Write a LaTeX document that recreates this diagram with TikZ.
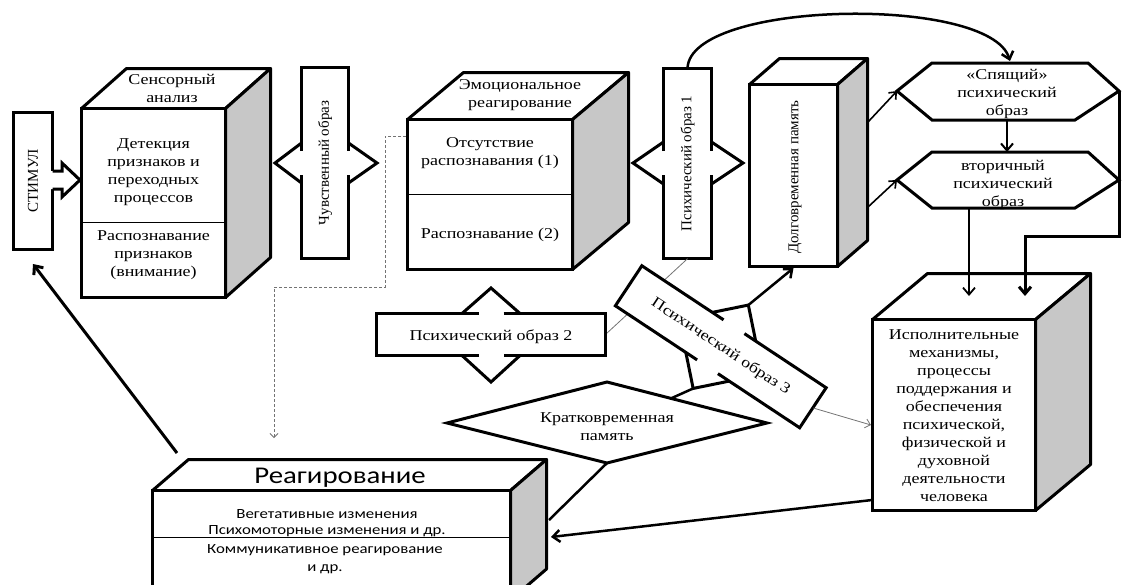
\documentclass[tikz,border=0pt]{standalone}
\usepackage{fontspec}
\setmainfont[FakeStretch=1.2]{Liberation Serif}
\newfontfamily\upfont{Liberation Serif}
\newfontfamily\reafont[FakeStretch=1.2]{Carlito}
\usetikzlibrary{arrows.meta,calc}

\tikzset{
 face/.style={draw,line width=3pt,fill=white,inner sep=0pt},
 sideface/.style={draw,line width=3pt,fill=black!22,line join=round},
 topface/.style={draw,line width=3pt,fill=white,line join=round},
 callout/.style={line width=3pt},
 lbl/.style={align=center,inner sep=0pt,font=\fontsize{15}{18}\selectfont},
 uplbl/.style={align=center,inner sep=0pt,rotate=90,font=\upfont\fontsize{15}{18}\selectfont},
 divide/.style={line width=0.8pt},
 link/.style={line width=2.5pt,-{Straight Barb[length=7pt,width=12pt]}},
 slink/.style={line width=1.6pt,-{Straight Barb[length=6pt,width=10pt]}},
 glink/.style={draw=black!55,line width=0.8pt},
}

\begin{document}
\begin{tikzpicture}[x=1pt,y=-1pt]
\useasboundingbox (0,0) rectangle (1129,584);
\clip (0,0) rectangle (1129,584);

\node[face,minimum width=39pt,minimum height=137pt] (stim) at (33,181) {};
\node[uplbl] at (stim) {СТИМУЛ};
\fill[white] (51,171) -- (62,171) -- (62,163) -- (80,180) -- (62,197) -- (62,189) -- (51,189) -- cycle;
\draw[callout] (52.5,171) -- (62,171) -- (62,163) -- (80,180) -- (62,197) -- (62,189) -- (52.5,189);

\draw[topface] (81.5,108.5) -- (126.5,68.5) -- (270.5,68.5) -- (225.5,108.5) -- cycle;
\draw[sideface] (225.5,108.5) -- (270.5,68.5) -- (270.5,257.5) -- (225.5,297.5) -- cycle;
\node[face,minimum width=144pt,minimum height=189pt] (sens) at (153.5,203) {};
\draw[divide] (81.5,222) -- (225.5,222);
\node[lbl] at (172,88) {Сенсорный\\анализ};
\node[lbl] at (153.5,172.5) {Детекция\\признаков и\\переходных\\процессов};
\node[lbl] at (153.5,255) {Распознавание\\признаков\\(внимание)};

\node[minimum width=47pt,minimum height=191pt,inner sep=0pt] (feel) at (325,163) {};
\fill[white] (275,163) -- (301.5,143) -- (301.5,67.5) -- (348.5,67.5) -- (348.5,143) -- (377,163) -- (348.5,183) -- (348.5,258.5) -- (301.5,258.5) -- (301.5,183) -- cycle;
\draw[callout] (301.5,151) -- (301.5,67.5) -- (348.5,67.5) -- (348.5,151);
\draw[callout] (301.5,175) -- (301.5,258.5) -- (348.5,258.5) -- (348.5,175);
\draw[callout] (301.5,143) -- (275,163) -- (301.5,183);
\draw[callout] (348.5,143) -- (377,163) -- (348.5,183);
\node[uplbl] at (feel) {Чувственный образ};

\draw[topface] (407.5,119.5) -- (463.5,72.5) -- (628.5,72.5) -- (572.5,119.5) -- cycle;
\draw[sideface] (572.5,119.5) -- (628.5,72.5) -- (628.5,222.5) -- (572.5,269.5) -- cycle;
\node[face,minimum width=165pt,minimum height=150pt] (emo) at (490,194.5) {};
\draw[divide] (407.5,194) -- (572.5,194);
\node[lbl] at (520,95) {Эмоциональное\\реагирование};
\node[lbl] at (490,153.5) {Отсутствие\\распознавания (1)};
\node[lbl] at (490,235) {Распознавание (2)};

\node[minimum width=48pt,minimum height=190pt,inner sep=0pt] (psy1) at (687.5,163.5) {};
\fill[white] (633,163) -- (663.5,142) -- (663.5,68.5) -- (711.5,68.5) -- (711.5,142) -- (743,163) -- (711.5,184) -- (711.5,258.5) -- (663.5,258.5) -- (663.5,184) -- cycle;
\draw[callout] (663.5,151) -- (663.5,68.5) -- (711.5,68.5) -- (711.5,151);
\draw[callout] (663.5,175) -- (663.5,258.5) -- (711.5,258.5) -- (711.5,175);
\draw[callout] (663.5,142) -- (633,163) -- (663.5,184);
\draw[callout] (711.5,142) -- (743,163) -- (711.5,184);
\node[uplbl] at (psy1) {Психический образ 1};

\draw[topface] (749.5,84.5) -- (779.5,58.5) -- (867.5,58.5) -- (837.5,84.5) -- cycle;
\draw[sideface] (837.5,84.5) -- (867.5,58.5) -- (867.5,240.5) -- (837.5,266.5) -- cycle;
\node[face,minimum width=88pt,minimum height=182pt] (dolg) at (793.5,175.5) {};
\node[uplbl] at (795,177) {Долговременная память};
\coordinate (dolgA) at (868,122);
\coordinate (dolgB) at (868,207);

\draw[line width=3pt,fill=white] (897,91) -- (932,63) -- (1088,63) -- (1119,91) -- (1075,120) -- (932,120) -- cycle;
\coordinate (sleepL) at (897,91);
\coordinate (sleepR) at (1119,91);
\coordinate (sleepT) at (1010,61);
\coordinate (sleepB) at (1007,120);
\node[lbl] (sleep) at (1007,94) {«Спящий»\\психический\\образ};

\draw[line width=3pt,fill=white] (897,180) -- (932,152) -- (1088,152) -- (1119,180) -- (1075,208) -- (932,208) -- cycle;
\coordinate (secL) at (897,180);
\coordinate (secT) at (1007,152);
\coordinate (secB) at (969,208);
\node[lbl] (sec) at (1003,185) {вторичный\\психический\\образ};

\draw[topface] (872.5,319.5) -- (927.5,273.5) -- (1090.5,273.5) -- (1035.5,319.5) -- cycle;
\draw[sideface] (1035.5,319.5) -- (1090.5,273.5) -- (1090.5,464.5) -- (1035.5,510.5) -- cycle;
\node[face,minimum width=163pt,minimum height=191pt] (isp) at (954,415) {};
\node[lbl] at (954,416) {Исполнительные\\механизмы,\\процессы\\поддержания и\\обеспечения\\психической,\\физической и\\духовной\\деятельности\\человека};

\draw[glink] (psy1.south) -- (606,334);

\node[minimum width=229pt,minimum height=42pt,inner sep=0pt] (psy2) at (491,334.5) {};
\fill[white] (376.5,313.5) -- (462,313.5) -- (491,288) -- (520,313.5) -- (605.5,313.5) -- (605.5,355.5) -- (520,355.5) -- (491,382) -- (462,355.5) -- (376.5,355.5) -- cycle;
\draw[callout] (478.5,313.5) -- (376.5,313.5) -- (376.5,355.5) -- (478.5,355.5);
\draw[callout] (503.5,313.5) -- (605.5,313.5) -- (605.5,355.5) -- (503.5,355.5);
\draw[callout] (462,313.5) -- (491,288) -- (520,313.5);
\draw[callout] (462,355.5) -- (491,382) -- (520,355.5);
\node[lbl] at (491,337) {Психический образ 2};

\draw[line width=3pt,fill=white] (447,423) -- (607,382) -- (767,423) -- (607,463) -- cycle;
\coordinate (krN) at (607,382);
\coordinate (krE) at (767,423);
\coordinate (krS) at (607,463);
\node[lbl] (kr) at (607,427) {Кратковременная\\память};

\begin{scope}[shift={(720.75,346.75)},rotate=-33.5]
\fill[white] (-110.5,-24) rectangle (110.5,24);
\fill[white] (-26,-24) -- (0,-50) -- (26,-24) -- cycle;
\fill[white] (-26,24) -- (0,50) -- (26,24) -- cycle;
\draw[callout] (-12.5,-24) -- (-110.5,-24) -- (-110.5,24) -- (-12.5,24);
\draw[callout] (12.5,-24) -- (110.5,-24) -- (110.5,24) -- (12.5,24);
\draw[callout] (-26,-24) -- (0,-50) -- (26,-24);
\draw[callout] (-26,24) -- (0,50) -- (26,24);
\node[lbl,rotate=-33.5] (psy3) at (0,0) {Психический образ 3};
\coordinate (psy3up) at (0,-50);
\coordinate (psy3dn) at (0,50);
\coordinate (psy3end) at (111,0);
\end{scope}

\draw[topface] (152.5,490.5) -- (188.5,459.5) -- (546.5,459.5) -- (510.5,490.5) -- cycle;
\draw[sideface] (510.5,490.5) -- (546.5,459.5) -- (546.5,569) -- (510.5,600) -- cycle;
\node[face,minimum width=358pt,minimum height=109.5pt] (rea) at (331.5,545.25) {};
\draw[divide] (152.5,537) -- (510.5,537);
\node[inner sep=0pt,font=\reafont\fontsize{24}{28}\selectfont] at (340,478) {Реагирование};
\node[align=center,inner sep=0pt,font=\reafont\fontsize{14}{16}\selectfont] at (327,523) {Вегетативные изменения\\Психомоторные изменения и др.};
\node[align=center,inner sep=0pt,font=\reafont\fontsize{14}{18}\selectfont] at (325,559) {Коммуникативное реагирование\\и др.};
\coordinate (reaTL) at (177,453);
\coordinate (reaA) at (549,520);
\coordinate (reaB) at (551,537);

\coordinate (emoW) at (406,136);
\draw[glink,densely dashed,-{Straight Barb[length=4pt,width=8pt]}] (emoW) -- (385,136) -- (385,287) -- (274,287) -- (274,438);

\draw[link] (psy1.north) .. controls (690,0) and (990,-5) .. (sleepT);
\draw[slink] (dolgA) -- (sleepL);
\draw[slink] (dolgB) -- (secL);
\draw[link,line width=2pt] (sleepB) -- (secT);
\draw[link,line width=1.8pt] (secB) -- (969,296);
\draw[link,line width=3pt,line join=miter] (sleepR) -- (1119,236) -- (1025,236) -- (1025,296);
\draw[link] (psy3up) -- (dolg.south);
\draw[line width=2.5pt] (psy3dn) -- ($(krN)!0.4!(krE)$);
\draw[glink,-{Straight Barb[length=5pt,width=9pt]}] (psy3end) -- (871,425);
\draw[line width=2.5pt] (krS) -- (reaA);
\draw[link] (872,500) -- (reaB);
\draw[link,line width=3pt] (reaTL) -- ($(stim.south)+(0,13)$);
\end{tikzpicture}
\end{document}
